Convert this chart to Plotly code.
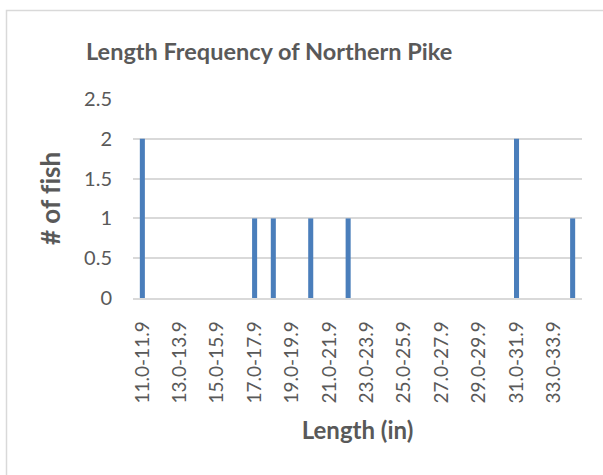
import plotly.graph_objects as go

# Length classes (inches) and number of fish caught in each
length_classes = [
    "11.0-11.9", "12.0-12.9", "13.0-13.9", "14.0-14.9", "15.0-15.9", "16.0-16.9",
    "17.0-17.9", "18.0-18.9", "19.0-19.9", "20.0-20.9", "21.0-21.9", "22.0-22.9",
    "23.0-23.9", "24.0-24.9", "25.0-25.9", "26.0-26.9", "27.0-27.9", "28.0-28.9",
    "29.0-29.9", "30.0-30.9", "31.0-31.9", "32.0-32.9", "33.0-33.9", "34.0-34.9",
]
fish_counts = [2, 0, 0, 0, 0, 0, 1, 1, 0, 1, 0, 1, 0, 0, 0, 0, 0, 0, 0, 0, 2, 0, 0, 1]
y_ticks = [0, 0.5, 1, 1.5, 2, 2.5]
y_tick_text = ["0", "0.5", "1", "1.5", "2", "2.5"]

TEXT = "#595959"
GRID = "#d9d9d9"
FONT = "Lato"

W, H = 603, 475
L, R, T, B = 133, 21, 99, 177
pw, ph = W - L - R, H - T - B


def px_x(x):
    return (x - L) / pw


def px_y(y):
    return (H - B - y) / ph


fig = go.Figure(
    go.Bar(
        x=length_classes,
        y=fish_counts,
        marker=dict(color="#4a7ebb", line=dict(width=0)),
        width=0.27,
    )
)

fig.update_layout(
    width=W,
    height=H,
    margin=dict(l=L, r=R, t=T, b=B),
    paper_bgcolor="white",
    plot_bgcolor="white",
    showlegend=False,
    font=dict(family=FONT, color=TEXT, size=20),
    xaxis=dict(
        type="category",
        categoryorder="array",
        categoryarray=length_classes,
        tickmode="array",
        tickvals=length_classes[::2],
        ticktext=length_classes[::2],
        tickangle=-90,
        ticks="",
        showgrid=False,
        showline=True,
        linecolor=GRID,
        linewidth=1.5,
        ticklabelstandoff=14,
        tickfont=dict(family=FONT, size=19, color=TEXT),
        range=[-0.5, len(length_classes) - 0.5],
        title=dict(text="<b>Length (in)</b>", font=dict(family=FONT, size=24, color=TEXT), standoff=20),
    ),
    yaxis=dict(
        range=[0, 2.5],
        tickmode="array",
        tickvals=y_ticks,
        ticktext=y_tick_text,
        showgrid=True,
        gridcolor=GRID,
        gridwidth=1.5,
        zeroline=False,
        ticks="",
        ticklabelstandoff=20,
        tickfont=dict(family=FONT, size=20, color=TEXT),
        # zero-width non-joiner keeps "f" and "i" as separate glyphs
        title=dict(text="<b># of f\u200cish</b>", font=dict(family=FONT, size=26, color=TEXT), standoff=15),
    ),
    annotations=[
        dict(
            text="<b>Length Frequency of Northern Pike</b>",
            xref="paper", yref="paper",
            x=px_x(268.5), y=px_y(51),
            xanchor="center", yanchor="middle",
            showarrow=False,
            font=dict(family=FONT, size=23.5, color=TEXT),
        )
    ],
    shapes=[
        dict(
            type="rect", xref="paper", yref="paper",
            x0=px_x(6.5), x1=px_x(W + 10), y0=px_y(H + 10), y1=px_y(10.5),
            line=dict(color=GRID, width=1.5), fillcolor="rgba(0,0,0,0)",
            layer="below",
        )
    ],
)

fig.write_html("out.html")
